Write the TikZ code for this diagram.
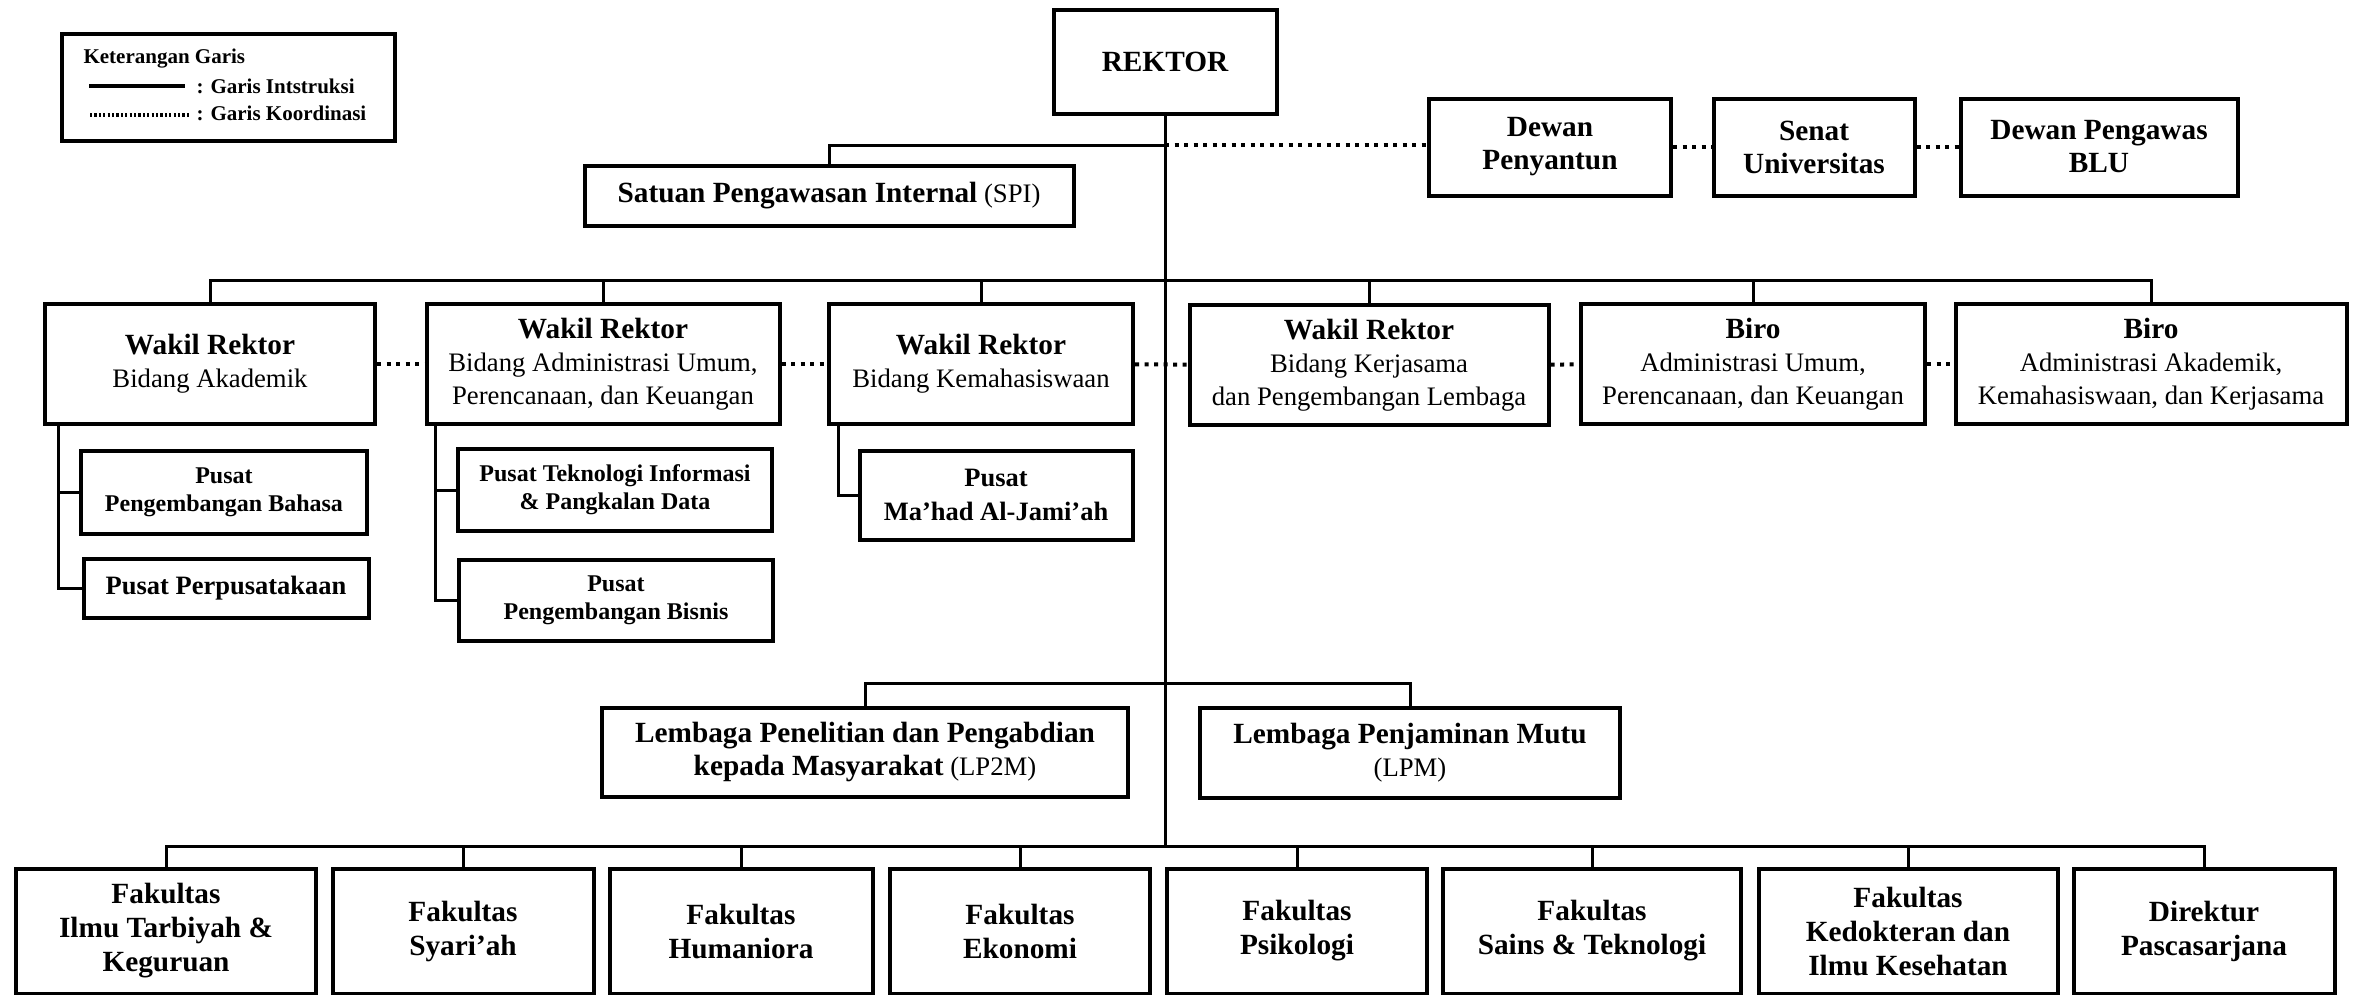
\documentclass[tikz,border=0pt]{standalone}
\usepackage{fontspec}
\setmainfont{Liberation Serif}
\usetikzlibrary{calc, positioning}

\newcommand{\jd}[1]{{\fontsize{29.3}{33}\selectfont\bfseries #1}}
\newcommand{\kecil}{\fontsize{24}{28}\selectfont\bfseries}
\newcommand{\sedang}{\fontsize{26.5}{30}\selectfont\bfseries}
\newcommand{\mahad}{\fontsize{26.5}{34}\selectfont\bfseries}
\newcommand{\leg}{\fontsize{21}{25}\selectfont\bfseries}

\begin{document}
\begin{tikzpicture}[x=1pt,y=-1pt,
  kotak/.style={draw, rectangle, line width=4pt, inner sep=0pt, align=center, font=\fontsize{26.7}{33}\selectfont},
  fak/.style={kotak, minimum height=125, font=\fontsize{26.7}{34}\selectfont},
  garis/.style={line width=3pt},
  koord/.style={line width=4pt, dash pattern=on 4pt off 5.5pt}]
\useasboundingbox (0,0) rectangle (2354,994);
\clip (0,0) rectangle (2354,994);

% keterangan
\node[kotak, minimum width=333, minimum height=107] (legenda) at (228,87) {};
\node[anchor=west, font=\leg] (ket) at (80,59) {Keterangan Garis};
\node[anchor=west, font=\leg] (ins) at (193,86) {: Garis Intstruksi};
\node[anchor=west, font=\leg] (kor) at (193,113) {: Garis Koordinasi};
\coordinate (ls) at (89,86);
\coordinate (le) at (185,86);
\coordinate (ds) at (90,115);
\coordinate (de) at (189,115);
\draw[line width=3.5pt] (ls) -- (le);
\draw[line width=3.5pt, dash pattern=on 2.2pt off 2.2pt] (ds) -- (de);

% pimpinan
\node[kotak, minimum width=223, minimum height=104] (rektor) at (1165,62) {\jd{REKTOR}};
\node[kotak, minimum width=489, minimum height=60] (spi) at (829,196) {\jd{Satuan Pengawasan Internal} (SPI)};
\node[kotak, minimum width=242, minimum height=97] (dp) at (1550,147) {\jd{Dewan}\\\jd{Penyantun}};
\node[kotak, minimum width=201, minimum height=97] (senat) at (1814,147) {\jd{Senat}\\\jd{Universitas}};
\node[kotak, minimum width=277, minimum height=97] (blu) at (2099,147) {\jd{Dewan Pengawas}\\\jd{BLU}};

% wakil rektor dan biro
\node[kotak, minimum width=330, minimum height=120] (wr1) at (210,364) {\jd{Wakil Rektor}\\Bidang Akademik};
\node[kotak, minimum width=353, minimum height=120] (wr2) at (603,364) {\jd{Wakil Rektor}\\Bidang Administrasi Umum,\\Perencanaan, dan Keuangan};
\node[kotak, minimum width=304, minimum height=120] (wr3) at (981,364) {\jd{Wakil Rektor}\\Bidang Kemahasiswaan};
\node[kotak, minimum width=359, minimum height=120] (wr4) at (1369,365) {\jd{Wakil Rektor}\\Bidang Kerjasama\\dan Pengembangan Lembaga};
\node[kotak, minimum width=344, minimum height=120] (biro1) at (1753,364) {\jd{Biro}\\Administrasi Umum,\\Perencanaan, dan Keuangan};
\node[kotak, minimum width=391, minimum height=120] (biro2) at (2151,364) {\jd{Biro}\\Administrasi Akademik,\\Kemahasiswaan, dan Kerjasama};

% pusat
\node[kotak, minimum width=286, minimum height=83, font=\kecil] (bahasa) at (224,492) {Pusat\\Pengembangan Bahasa};
\node[kotak, minimum width=285, minimum height=59, font=\sedang] (perpus) at (226,588) {Pusat Perpusatakaan};
\node[kotak, minimum width=314, minimum height=82, font=\kecil] (tik) at (615,490) {Pusat Teknologi Informasi\\\& Pangkalan Data};
\node[kotak, minimum width=314, minimum height=81, font=\kecil] (bisnis) at (616,600) {Pusat\\Pengembangan Bisnis};
\node[kotak, minimum width=273, minimum height=89, font=\mahad] (mahad) at (996,495) {Pusat\\Ma’had Al-Jami’ah};

% lembaga
\node[kotak, minimum width=526, minimum height=89] (lp2m) at (865,752) {\jd{Lembaga Penelitian dan Pengabdian}\\\jd{kepada Masyarakat} (LP2M)};
\node[kotak, minimum width=420, minimum height=90] (lpm) at (1410,753) {\jd{Lembaga Penjaminan Mutu}\\(LPM)};

% fakultas
\node[fak, minimum width=300] (f1) at (166,931) {\jd{Fakultas}\\\jd{Ilmu Tarbiyah \&}\\\jd{Keguruan}};
\node[fak, minimum width=261] (f2) at (463,931) {\jd{Fakultas}\\\jd{Syari’ah}};
\node[fak, minimum width=263] (f3) at (741,931) {\jd{Fakultas}\\\jd{Humaniora}};
\node[fak, minimum width=260] (f4) at (1020,931) {\jd{Fakultas}\\\jd{Ekonomi}};
\node[fak, minimum width=260] (f5) at (1297,931) {\jd{Fakultas}\\\jd{Psikologi}};
\node[fak, minimum width=298] (f6) at (1592,931) {\jd{Fakultas}\\\jd{Sains \& Teknologi}};
\node[fak, minimum width=299] (f7) at (1908,931) {\jd{Fakultas}\\\jd{Kedokteran dan}\\\jd{Ilmu Kesehatan}};
\node[fak, minimum width=261] (f8) at (2204,931) {\jd{Direktur}\\\jd{Pascasarjana}};

% garis instruksi
\coordinate (j1) at (1165,145);
\coordinate (b2) at (1165,280);
\coordinate (b3) at (1165,683);
\coordinate (b4) at (1165,846);
\draw[garis] (rektor.south) -- (b4);
\draw[garis] (j1) -| (spi.north);
\draw[garis] (wr1.north) |- (b2) -| (biro2.north);
\draw[garis] (wr2.north) -- (wr2.north |- b2);
\draw[garis] (wr3.north) -- (wr3.north |- b2);
\draw[garis] (wr4.north) -- (wr4.north |- b2);
\draw[garis] (biro1.north) -- (biro1.north |- b2);
\draw[garis] (lp2m.north) |- (b3) -| (lpm.north);
\draw[garis] (f1.north) |- (b4) -| (f8.north);
\draw[garis] (f2.north) -- (f2.north |- b4);
\draw[garis] (f3.north) -- (f3.north |- b4);
\draw[garis] (f4.north) -- (f4.north |- b4);
\draw[garis] (f5.north) -- (f5.north |- b4);
\draw[garis] (f6.north) -- (f6.north |- b4);
\draw[garis] (f7.north) -- (f7.north |- b4);

% cabang pusat
\coordinate (c1) at (58,424);
\coordinate (c2) at (435,424);
\coordinate (c3) at (838,424);
\draw[garis] (c1) |- (perpus.west);
\draw[garis] (c1 |- bahasa.west) -- (bahasa.west);
\draw[garis] (c2) |- (bisnis.west);
\draw[garis] (c2 |- tik.west) -- (tik.west);
\draw[garis] (c3) |- (mahad.west);

% garis koordinasi
\draw[koord] (j1) -- (j1 -| dp.west);
\draw[koord] (dp) -- (senat);
\draw[koord] (senat) -- (blu);
\draw[koord] (wr1) -- (wr2);
\draw[koord] (wr2) -- (wr3);
\draw[koord] (wr3) -- (wr4);
\draw[koord] (wr4) -- (biro1);
\draw[koord] (biro1) -- (biro2);
\end{tikzpicture}
\end{document}
